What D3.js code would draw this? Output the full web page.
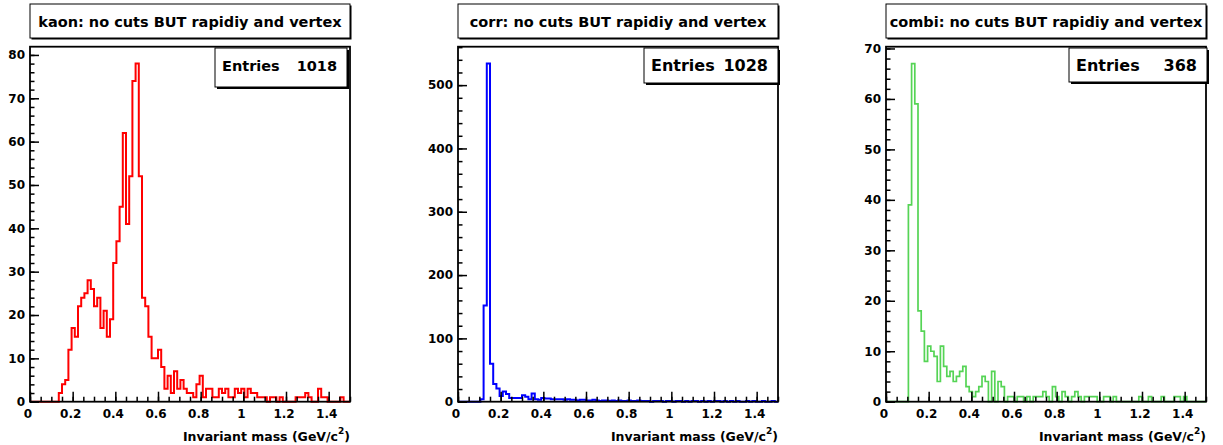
<!DOCTYPE html>
<html>
<head>
<meta charset="utf-8">
<script src="https://cdn.jsdelivr.net/npm/d3@7"></script>
<style>
  body { margin: 0; background: #fff; }
  svg text { font-family: "DejaVu Sans", sans-serif; font-weight: bold; fill: #000; }
</style>
</head>
<body>
<div id="chart"></div>
<script>
// histogram range, 100 bins of 0.015 GeV/c^2
const xRange = [0, 1.5];

const kaonCounts = [
  0, 0, 0, 0, 0, 0, 0, 0, 0, 2,
  4, 5, 12, 17, 15, 22, 24, 25, 28, 26,
  22, 24, 17, 21, 15, 19, 32, 37, 45, 62,
  41, 52, 74, 78, 52, 24, 22, 15, 10, 10,
  12, 8, 3, 6, 2, 7, 3, 5, 3, 2,
  2, 1, 4, 6, 1, 3, 3, 1, 1, 3,
  2, 3, 1, 1, 3, 2, 3, 1, 3, 2,
  2, 1, 1, 1, 0, 1, 1, 0, 1, 0,
  0, 0, 0, 1, 1, 1, 2, 1, 0, 0,
  3, 1, 1, 0, 0, 0, 0, 1, 0, 0
];
const corrCounts = [
  0, 0, 0, 0, 0, 0, 0, 4, 152, 534,
  60, 28, 21, 9, 16, 12, 6, 6, 6, 6,
  10, 8, 4, 13, 4, 3, 6, 5, 5, 4,
  4, 4, 4, 3, 4, 3, 3, 2, 3, 3,
  2, 2, 3, 2, 1, 2, 2, 1, 2, 1,
  2, 1, 1, 2, 1, 1, 2, 1, 1, 1,
  0, 1, 1, 1, 0, 1, 1, 0, 1, 1,
  0, 1, 0, 1, 1, 0, 1, 0, 1, 0,
  1, 1, 0, 1, 0, 1, 0, 1, 0, 0,
  1, 0, 1, 0, 0, 1, 0, 0, 1, 0
];
const combiCounts = [
  0, 0, 0, 0, 0, 0, 0, 39, 67, 59,
  18, 14, 8, 11, 10, 9, 4, 11, 7, 5,
  6, 4, 5, 6, 7, 3, 2, 1, 2, 3,
  5, 4, 0, 6, 0, 4, 3, 0, 1, 1,
  0, 1, 1, 0, 1, 0, 1, 1, 1, 2,
  1, 0, 3, 1, 0, 2, 1, 0, 1, 2,
  1, 0, 1, 1, 1, 1, 0, 0, 1, 1,
  0, 1, 0, 0, 0, 0, 0, 0, 0, 1,
  0, 0, 1, 0, 0, 0, 1, 0, 0, 0,
  1, 1, 0, 1, 0, 0, 0, 0, 0, 0
];

const titles = [
  'kaon: no cuts BUT rapidiy and vertex',
  'corr: no cuts BUT rapidiy and vertex',
  'combi: no cuts BUT rapidiy and vertex'
];
const entries = [1018, 1028, 368];

const xMajorTicks = [0, 0.2, 0.4, 0.6, 0.8, 1, 1.2, 1.4];
const xTickLabels = ['0', '0.2', '0.4', '0.6', '0.8', '1', '1.2', '1.4'];
const kaonYTicks = [0, 10, 20, 30, 40, 50, 60, 70, 80];
const corrYTicks = [0, 100, 200, 300, 400, 500];
const combiYTicks = [0, 10, 20, 30, 40, 50, 60, 70];

const W = 1223, H = 445;
const frameTop = 46.7, frameBottom = 401.7, pw = 320;

const panels = [
  { left: 30, counts: kaonCounts, color: '#ff0000', lw: 2, yTicks: kaonYTicks, yMinor: 2,
    stat: { x: 215, y: 48, w: 132, h: 39, fs: 14.5 } },
  { left: 458, counts: corrCounts, color: '#0000ff', lw: 2, yTicks: corrYTicks, yMinor: 20,
    stat: { x: 644, y: 48, w: 134, h: 35, fs: 16 } },
  { left: 886, counts: combiCounts, color: '#55d455', lw: 1.7, yTicks: combiYTicks, yMinor: 2,
    stat: { x: 1069, y: 48, w: 138, h: 34, fs: 16 } }
];

const svg = d3.select('#chart')
  .append('svg')
  .attr('width', W)
  .attr('height', H);

panels.forEach(function (p, k) {
  const n = p.counts.length;
  const x = d3.scaleLinear().domain(xRange).range([p.left, p.left + pw]);
  const yMax = d3.max(p.counts) * 1.05;
  const y = d3.scaleLinear().domain([0, yMax]).range([frameBottom, frameTop]);
  const binW = (xRange[1] - xRange[0]) / n;

  // title box with a small shadow
  const g = svg.append('g');
  g.append('rect')
    .attr('x', p.left + 1.5).attr('y', 5.5)
    .attr('width', pw).attr('height', 34)
    .attr('fill', '#000');
  g.append('rect')
    .attr('x', p.left).attr('y', 4)
    .attr('width', pw).attr('height', 34)
    .attr('fill', '#fff').attr('stroke', '#000').attr('stroke-width', 1);
  g.append('text')
    .attr('x', p.left + pw / 2).attr('y', 26.5)
    .attr('text-anchor', 'middle')
    .style('font-size', '14.5px')
    .text(titles[k]);

  // histogram outline
  const pts = p.counts.map(function (c, i) { return [xRange[0] + i * binW, c]; });
  pts.push([xRange[1], p.counts[n - 1]]);
  const line = d3.line()
    .x(function (d) { return x(d[0]); })
    .y(function (d) { return y(d[1]); })
    .curve(d3.curveStepAfter);
  g.append('path')
    .attr('d', line(pts))
    .attr('fill', 'none')
    .attr('stroke', p.color)
    .attr('stroke-width', p.lw);

  // axes, ticks drawn inward
  const xMinor = d3.range(0, xRange[1] + 1e-9, 0.05);
  g.append('g')
    .attr('transform', 'translate(0,' + frameBottom + ')')
    .call(d3.axisBottom(x).tickValues(xMinor).tickSize(-5).tickFormat(''))
    .call(function (a) { a.select('.domain').remove(); });
  g.append('g')
    .attr('transform', 'translate(0,' + frameBottom + ')')
    .call(d3.axisBottom(x).tickValues(xMajorTicks).tickSize(-10).tickPadding(7.5)
      .tickFormat(function (d, i) { return xTickLabels[i]; }))
    .call(function (a) {
      a.select('.domain').remove();
      a.selectAll('text').attr('x', -2.5).style('font-size', '12px');
    });

  const yMinorTicks = d3.range(0, yMax, p.yMinor);
  g.append('g')
    .attr('transform', 'translate(' + p.left + ',0)')
    .call(d3.axisLeft(y).tickValues(yMinorTicks).tickSize(-4.5).tickFormat(''))
    .call(function (a) { a.select('.domain').remove(); });
  g.append('g')
    .attr('transform', 'translate(' + p.left + ',0)')
    .call(d3.axisLeft(y).tickValues(p.yTicks).tickSize(-9).tickPadding(5).tickFormat(d3.format('d')))
    .call(function (a) {
      a.select('.domain').remove();
      a.selectAll('text').style('font-size', '12px');
    });
  g.selectAll('.tick line').attr('stroke', '#000').attr('stroke-width', 1.5);

  // frame
  g.append('rect')
    .attr('x', p.left).attr('y', frameTop)
    .attr('width', pw).attr('height', frameBottom - frameTop)
    .attr('fill', 'none').attr('stroke', '#000').attr('stroke-width', 1.8);

  // stats box
  const s = p.stat;
  g.append('rect')
    .attr('x', s.x + 2).attr('y', s.y + 2)
    .attr('width', s.w).attr('height', s.h)
    .attr('fill', '#000');
  g.append('rect')
    .attr('x', s.x).attr('y', s.y)
    .attr('width', s.w).attr('height', s.h)
    .attr('fill', '#fff').attr('stroke', '#000').attr('stroke-width', 1);
  g.append('text')
    .attr('x', s.x + 7).attr('y', 70.5)
    .style('font-size', s.fs + 'px')
    .text('Entries');
  g.append('text')
    .attr('x', s.x + s.w - 10).attr('y', 70.5)
    .attr('text-anchor', 'end')
    .style('font-size', s.fs + 'px')
    .text(entries[k]);

  // x axis title
  const t = g.append('text')
    .attr('x', p.left + pw).attr('y', 440.5)
    .attr('text-anchor', 'end')
    .style('font-size', '12.5px');
  t.append('tspan').text('Invariant mass (GeV/c');
  t.append('tspan').attr('dy', -7).style('font-size', '9px').text('2');
  t.append('tspan').attr('dy', 7).text(')');
});
</script>
</body>
</html>
